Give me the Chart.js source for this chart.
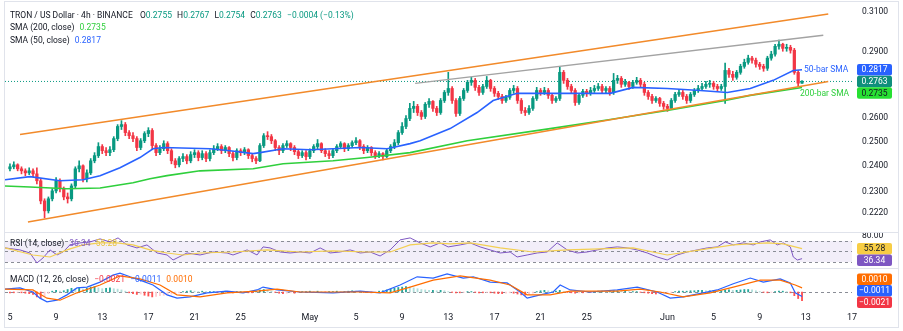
<!DOCTYPE html>
<html lang="en">
<head>
<meta charset="UTF-8" />
<title>TRON / US Dollar 4h</title>
<script src="https://cdn.jsdelivr.net/npm/chart.js"></script>
<style>
  body { margin: 0; background: #ffffff; font-family: Roboto, 'Open Sans', sans-serif; }
  #wrap { position: relative; width: 903px; height: 331px; background: #fff; overflow: hidden; }
  #wrap canvas { position: absolute; left: 0; }
  .frame { position: absolute; left: 4px; top: 1px; width: 893px; height: 325px; border: 1px solid #e0e3eb; pointer-events: none; }
  .sep { position: absolute; left: 4px; width: 895px; height: 1px; background: #e0e3eb; }
  .legend { position: absolute; left: 10px; font-size: 8.5px; line-height: 12px; color: #131722; white-space: nowrap; }
  .legend span { margin-left: 3px; }
</style>
</head>
<body>
<div id="wrap">
  <canvas id="priceChart" width="903" height="232" style="top:0"></canvas>
  <div class="sep" style="top:232px"></div>
  <canvas id="rsiChart" width="903" height="35" style="top:233px"></canvas>
  <div class="sep" style="top:268px"></div>
  <canvas id="macdChart" width="903" height="62" style="top:269px"></canvas>
  <div class="frame"></div>

  <div class="legend" style="top:9px">TRON / US Dollar · 4h · BINANCE&nbsp;
    <span>O<b style="font-weight:normal;color:#089981">0.2755</b></span>
    <span>H<b style="font-weight:normal;color:#089981">0.2767</b></span>
    <span>L<b style="font-weight:normal;color:#089981">0.2754</b></span>
    <span>C<b style="font-weight:normal;color:#089981">0.2763</b></span>
    <span style="color:#089981">−0.0004 (−0.13%)</span>
  </div>
  <div class="legend" style="top:21px">SMA (200, close) <span style="color:#2fcf3c">0.2735</span></div>
  <div class="legend" style="top:34px">SMA (50, close) <span style="color:#2962ff">0.2817</span></div>
  <div class="legend" style="top:237px">RSI (14, close) <span style="color:#7e57c2">36.34</span> <span style="color:#e9c440">55.28</span></div>
  <div class="legend" style="top:273px">MACD (12, 26, close) <span style="color:#f23645">−0.0021</span> <span style="color:#2962ff">−0.0011</span> <span style="color:#ff6d00">0.0010</span></div>
</div>

<script>
  // time axis in days from Apr 5 00:00, one candle every 8 hours
  const candleStep = 1 / 3;
  const tickDays = [0, 4, 8, 12, 16, 20, 26, 30, 34, 38, 42, 46, 50, 57, 61, 65, 69, 73];
  const tickLabels = ['5', '9', '13', '17', '21', '25', 'May', '5', '9', '13', '17', '21', '25', 'Jun', '5', '9', '13', '17'];
  const priceTicks = [0.2220, 0.2300, 0.2400, 0.2500, 0.2600, 0.2900, 0.3100];

  const firstOpen = 0.2390;
  const closes = [
    .2398,.2406,.2390,.2382,.2374,.2382,.2370,.2343,.2266,.2229,
    .2274,.2304,.2343,.2312,.2281,.2274,.2323,.2390,.2402,.2351,
    .2374,.2422,.2443,.2480,.2463,.2455,.2467,.2513,.2564,.2572,
    .2538,.2525,.2513,.2476,.2504,.2534,.2547,.2484,.2455,.2471,
    .2492,.2463,.2422,.2406,.2431,.2439,.2422,.2447,.2455,.2435,
    .2451,.2431,.2455,.2471,.2480,.2463,.2476,.2451,.2435,.2463,
    .2455,.2467,.2443,.2431,.2422,.2484,.2525,.2521,.2504,.2476,
    .2463,.2484,.2492,.2476,.2459,.2443,.2455,.2439,.2463,.2480,
    .2492,.2463,.2451,.2443,.2463,.2480,.2492,.2471,.2484,.2496,
    .2504,.2480,.2463,.2476,.2455,.2443,.2451,.2439,.2463,.2480,
    .2496,.2538,.2564,.2598,.2642,.2651,.2624,.2607,.2660,.2673,
    .2642,.2624,.2677,.2713,.2731,.2677,.2620,.2686,.2722,.2759,
    .2768,.2736,.2713,.2740,.2768,.2731,.2709,.2695,.2677,.2691,
    .2722,.2731,.2677,.2633,.2624,.2642,.2686,.2722,.2713,.2722,
    .2700,.2677,.2686,.2805,.2768,.2740,.2722,.2668,.2700,.2718,
    .2709,.2722,.2731,.2740,.2722,.2731,.2713,.2768,.2777,.2750,
    .2759,.2740,.2759,.2768,.2750,.2713,.2695,.2677,.2686,.2664,
    .2651,.2642,.2677,.2704,.2713,.2695,.2677,.2704,.2722,.2731,
    .2740,.2750,.2754,.2740,.2731,.2740,.2814,.2796,.2782,.2805,
    .2833,.2852,.2872,.2862,.2843,.2833,.2824,.2872,.2891,.2929,
    .2939,.2919,.2924,.2910,.2805,.2755,.2763
  ];
  const highs = [
    .2410,.2418,.2410,.2398,.2390,.2394,.2390,.2394,.2351,.2274,
    .2281,.2312,.2355,.2351,.2319,.2296,.2331,.2398,.2422,.2406,
    .2386,.2431,.2455,.2496,.2488,.2476,.2480,.2521,.2572,.2589,
    .2581,.2547,.2538,.2521,.2513,.2542,.2559,.2555,.2492,.2484,
    .2504,.2500,.2471,.2431,.2439,.2451,.2447,.2459,.2467,.2463,
    .2463,.2459,.2467,.2484,.2492,.2488,.2484,.2480,.2459,.2471,
    .2471,.2476,.2471,.2451,.2439,.2492,.2534,.2542,.2530,.2509,
    .2484,.2492,.2504,.2496,.2484,.2467,.2463,.2463,.2471,.2488,
    .2509,.2496,.2471,.2463,.2471,.2488,.2500,.2496,.2492,.2504,
    .2517,.2509,.2488,.2484,.2480,.2463,.2459,.2455,.2471,.2488,
    .2509,.2547,.2581,.2611,.2664,.2673,.2660,.2633,.2668,.2686,
    .2677,.2651,.2686,.2722,.2805,.2740,.2686,.2695,.2731,.2768,
    .2782,.2777,.2745,.2750,.2786,.2773,.2740,.2718,.2704,.2700,
    .2731,.2745,.2740,.2686,.2646,.2655,.2695,.2736,.2731,.2736,
    .2731,.2709,.2695,.2829,.2814,.2777,.2750,.2731,.2709,.2727,
    .2727,.2736,.2745,.2754,.2750,.2740,.2740,.2800,.2791,.2786,
    .2773,.2763,.2768,.2782,.2777,.2759,.2722,.2704,.2695,.2691,
    .2673,.2660,.2686,.2713,.2727,.2722,.2704,.2713,.2731,.2745,
    .2754,.2763,.2768,.2763,.2750,.2750,.2848,.2824,.2810,.2814,
    .2843,.2867,.2886,.2881,.2872,.2852,.2843,.2881,.2905,.2939,
    .2959,.2944,.2939,.2934,.2919,.2814,.2767
  ];
  const lows = [
    .2382,.2390,.2382,.2370,.2363,.2367,.2359,.2331,.2255,.2203,
    .2221,.2266,.2296,.2300,.2270,.2258,.2266,.2315,.2378,.2339,
    .2339,.2367,.2414,.2435,.2451,.2443,.2443,.2459,.2504,.2551,
    .2525,.2513,.2500,.2463,.2467,.2496,.2521,.2471,.2443,.2447,
    .2463,.2451,.2410,.2394,.2398,.2418,.2410,.2414,.2435,.2422,
    .2426,.2418,.2422,.2447,.2463,.2451,.2455,.2439,.2422,.2426,
    .2443,.2447,.2431,.2418,.2410,.2418,.2476,.2509,.2492,.2463,
    .2447,.2455,.2476,.2463,.2447,.2431,.2435,.2426,.2431,.2455,
    .2471,.2455,.2439,.2431,.2435,.2455,.2471,.2459,.2463,.2476,
    .2488,.2467,.2451,.2455,.2443,.2431,.2435,.2426,.2435,.2455,
    .2471,.2488,.2530,.2555,.2589,.2624,.2611,.2594,.2598,.2646,
    .2629,.2611,.2616,.2668,.2700,.2664,.2607,.2611,.2677,.2713,
    .2745,.2722,.2700,.2704,.2731,.2718,.2695,.2682,.2664,.2668,
    .2682,.2709,.2664,.2620,.2611,.2616,.2633,.2677,.2700,.2704,
    .2686,.2664,.2668,.2677,.2754,.2727,.2709,.2655,.2660,.2691,
    .2695,.2700,.2713,.2722,.2709,.2709,.2700,.2704,.2754,.2736,
    .2740,.2727,.2731,.2750,.2736,.2700,.2682,.2664,.2668,.2651,
    .2638,.2629,.2638,.2668,.2695,.2682,.2664,.2668,.2695,.2713,
    .2722,.2731,.2736,.2727,.2718,.2722,.2664,.2782,.2768,.2773,
    .2796,.2824,.2843,.2848,.2829,.2819,.2810,.2814,.2862,.2881,
    .2915,.2905,.2905,.2896,.2796,.2740,.2754
  ];

  // moving averages (day, price)
  const sma50Days = [-0.43,1.73,4.34,6.33,7.81,9.54,11.27,12.4,13.27,17.35,19.08,21.08,21.68,23.68,26.02,28.01,30.36,32.7,34.69,35.56,38.16,40.5,41.89,43.97,46.83,49.7,52.04,54.03,56.98,59.84,62.19,64.18,66.17,67.91,68.67];
  const sma50 = [.2347,.2359,.2343,.2347,.2363,.2394,.2435,.2471,.2476,.2471,.2463,.2451,.2455,.2471,.2467,.2471,.2476,.2471,.2492,.2504,.2555,.2624,.2677,.2709,.2709,.2709,.2709,.2736,.2731,.2722,.2713,.2731,.2768,.2814,.2817];
  const sma200Days = [-0.43,1.73,4.94,7.81,10.67,12.14,13.62,16.48,21.08,23.68,28.01,30.96,34.69,39.64,46.83,52.04,56.98,62.01,64.18,68.67];
  const sma200 = [.2323,.2319,.2312,.2315,.2335,.2351,.2363,.2382,.2390,.2410,.2422,.2435,.2455,.2504,.2555,.2594,.2633,.2677,.2700,.2735];

  // trend lines [startDay, startPrice, endDay, endPrice]
  const upperChannel = [0.87, 0.2530, 70.94, 0.3090];
  const lowerChannel = [1.56, 0.2188, 70.94, 0.2763];
  const resistance = [35.13, 0.2754, 70.51, 0.2983];

  // RSI (14) and its moving average
  const rsiDays = [-0.43,0.87,1.73,2.34,2.86,3.47,4.08,4.6,5.2,6.07,6.94,7.81,8.67,9.37,10.15,11.01,11.88,12.75,13.62,14.14,15.35,16.48,17.61,18.82,19.34,20.56,21.42,21.94,22.55,23.42,24.28,25.15,26.02,26.89,27.75,28.62,29.49,30.36,31.22,32.09,32.96,33.82,34.69,35.56,36.43,37.29,37.99,39.03,39.9,40.76,41.63,42.5,43.36,43.97,44.84,45.71,46.57,47.44,48.31,49.18,50.04,50.91,51.78,52.65,53.51,54.38,55.25,56.11,56.98,57.85,58.72,59.58,60.45,61.32,62.01,62.71,63.57,64.44,65.05,65.91,66.52,67.04,67.65,67.91,68.26,68.67];
  const rsi = [56.7,52.9,47.1,28.1,37.6,52.9,43.3,49,62.4,66.2,68.1,73.8,68.1,75.7,62.4,56.7,62.4,47.1,43.3,33.8,47.1,43.3,49,47.1,43.3,52.9,43.3,58.6,56.7,49,47.1,49,47.1,56.7,47.1,49,52.9,47.1,49,41.4,52.9,71.9,75.7,66.2,58.6,66.2,58.6,62.4,66.2,58.6,52.9,47.1,49,39.5,43.3,47.1,49,66.2,52.9,47.1,49,52.9,56.7,58.6,56.7,52.9,47.1,39.5,33.8,43.3,49,52.9,56.7,58.6,68.1,62.4,66.2,62.4,68.1,71.9,62.4,66.2,58.6,39.5,33.8,36.34];
  const rsiMaDays = [-0.43,1.99,3.47,4.94,6.33,7.81,9.28,10.67,12.14,13.62,15,16.48,19.34,22.29,25.15,28.01,30.96,32.96,34.69,36.69,38.16,39.9,42.5,45.36,48.31,51.17,54.03,56.98,59.84,62.71,65.65,67.04,68.67];
  const rsiMa = [56.7,43.3,39.5,52.9,62.4,66.2,66.2,62.4,52.9,47.1,43.3,47.1,49,52.9,49,51,49,49,62.4,66.2,64.3,66.2,56.7,49,52.9,54.8,56.7,43.3,52.9,62.4,66.2,64.3,55.28];

  // MACD (12, 26) line, signal and histogram
  const macdDays = [-0.43,0.87,1.99,2.6,3.21,4.08,4.94,5.81,6.68,7.81,8.93,9.54,10.41,11.27,12.4,13.62,14.48,15.61,17.09,18.82,20.21,21.42,21.94,23.16,25.15,28.01,30.36,32.09,33.82,35.3,36.69,37.9,39.29,40.16,41.63,43.1,44.23,44.84,45.97,47.09,47.7,48.57,50.3,52.65,54.38,56.11,57.24,58.37,60.1,61.32,62.71,64.18,65.31,66.78,67.65,68.08,68.67];
  const macd = [.0007,.0010,.0000,-.0015,-.0024,-.0020,-.0007,.0010,.0012,.0024,.0041,.0046,.0037,.0029,.0017,-.0007,-.0015,-.0012,-.0002,.0002,-.0002,.0005,.0012,.0005,.0000,-.0002,.0002,-.0002,.0017,.0037,.0034,.0044,.0034,.0037,.0024,.0022,.0000,-.0015,-.0007,.0000,.0017,.0005,.0000,.0005,.0012,.0000,-.0015,-.0012,-.0002,.0005,.0020,.0034,.0024,.0032,.0022,-.0002,-.0011];
  const signalDays = [-0.43,1.99,3.21,4.34,5.81,7.81,9.54,11.27,13.01,14.48,16.48,18.82,21.42,23.16,25.15,30.36,32.96,34.69,36.69,39.03,41.63,43.36,44.84,46.83,48.57,52.65,54.64,56.37,58.37,60.71,62.71,65.05,66.78,68.08,68.67];
  const signal = [.0007,.0005,-.0015,-.0020,-.0002,.0017,.0039,.0032,.0017,-.0007,-.0012,-.0002,.0002,.0007,.0000,.0000,-.0002,.0012,.0029,.0039,.0029,.0017,-.0007,-.0007,.0002,.0002,.0007,.0000,-.0012,-.0002,.0012,.0029,.0029,.0017,.0010];
  const histogram = [
    -.0002,-.0002,-.0001,-.0002,-.0003,-.0004,-.0006,-.0012,-.0015,-.0010,
    -.0004,.0002,.0004,.0002,.0003,.0006,.0009,.0008,.0010,.0007,
    .0009,.0012,.0013,.0010,.0008,.0009,.0010,.0008,.0007,.0005,
    .0002,-.0002,-.0004,-.0006,-.0005,-.0008,-.0010,-.0012,-.0011,-.0009,
    -.0008,-.0007,-.0005,-.0003,-.0002,.0001,.0002,.0003,.0002,.0001,
    .0002,.0001,.0001,.0001,-.0001,.0001,.0002,-.0001,-.0002,.0001,
    .0001,-.0001,-.0002,-.0002,.0002,.0005,.0006,.0004,.0002,-.0001,
    -.0003,-.0004,-.0003,-.0002,-.0003,-.0001,.0001,.0001,.0002,.0001,
    .0002,.0001,-.0001,.0001,.0001,.0002,.0001,.0001,.0002,.0003,
    .0002,.0001,-.0001,-.0001,-.0002,-.0001,.0002,.0003,.0005,.0007,
    .0009,.0011,.0012,.0013,.0012,.0010,.0008,.0006,.0005,.0004,
    .0004,.0003,.0004,.0003,.0001,-.0001,-.0002,-.0002,-.0001,.0001,
    .0001,-.0001,-.0002,-.0002,-.0001,-.0002,-.0003,-.0004,-.0004,-.0003,
    -.0002,-.0003,-.0005,-.0007,-.0008,-.0006,-.0003,.0001,.0003,.0004,
    .0003,.0002,.0002,.0004,.0001,-.0001,-.0002,-.0003,-.0002,-.0002,
    -.0001,-.0001,.0001,.0002,.0002,.0001,.0002,.0003,.0003,.0002,
    .0002,.0001,.0001,.0001,-.0001,-.0002,-.0003,-.0004,-.0005,-.0004,
    -.0003,-.0002,-.0001,.0001,.0002,.0002,.0002,.0003,.0003,.0004,
    .0004,.0003,.0003,.0004,.0003,.0003,.0005,.0005,.0004,.0004,
    .0005,.0006,.0006,.0005,.0003,.0001,-.0001,-.0002,-.0001,.0001,
    .0002,.0002,.0001,-.0002,-.0009,-.0016,-.0021
  ];

  const UP = '#089981', DOWN = '#f23645';
  const BLUE = '#2962ff', GREEN = '#2fcf3c', ORANGE = '#f28a2a';
  const xMin = -0.43, xMax = 73;

  // ---------- build series ----------
  const candleX = closes.map((c, i) => i * candleStep);
  const opens = closes.map((c, i) => i === 0 ? firstOpen : closes[i - 1]);
  const bodies = closes.map((c, i) => ({ x: candleX[i], y: [opens[i], c] }));
  const wicks = closes.map((c, i) => ({ x: candleX[i], y: [lows[i], highs[i]] }));
  const candleColors = closes.map((c, i) => c >= opens[i] ? UP : DOWN);
  const pts = (xs, ys) => xs.map((x, i) => ({ x: x, y: ys[i] }));
  const seg = a => [{ x: a[0], y: a[1] }, { x: a[2], y: a[3] }];
  const lastClose = closes[closes.length - 1];
  const lastDay = candleX[candleX.length - 1];

  // ---------- plugins ----------
  // fixed price-scale column, and no label padding eating the plot height
  const fixY = s => { s.width = 51; s.paddingTop = 0; s.paddingBottom = 0; };
  const fixX = s => { s.height = 23; s.paddingLeft = 0; s.paddingRight = 0; };

  const guidesPlugin = {
    id: 'guides',
    beforeDatasetsDraw(chart, args, opts) {
      const ctx = chart.ctx, a = chart.chartArea, y = chart.scales.y;
      ctx.save();
      if (opts.band) {
        const y1 = y.getPixelForValue(opts.band[0]), y2 = y.getPixelForValue(opts.band[1]);
        ctx.fillStyle = 'rgba(126, 87, 194, 0.10)';
        ctx.fillRect(a.left, y1, a.right - a.left, y2 - y1);
      }
      (opts.lines || []).forEach(v => {
        const py = Math.round(y.getPixelForValue(v)) + 0.5;
        ctx.strokeStyle = '#8a8d96';
        ctx.lineWidth = 1;
        ctx.setLineDash([3, 3]);
        ctx.beginPath();
        ctx.moveTo(a.left, py);
        ctx.lineTo(a.right, py);
        ctx.stroke();
      });
      ctx.restore();
    }
  };

  const tagsPlugin = {
    id: 'tags',
    afterDraw(chart, args, opts) {
      if (!opts.items) return;
      const ctx = chart.ctx, y = chart.scales.y, h = 11.5;
      const items = opts.items.map(it => Object.assign({}, it, { py: y.getPixelForValue(it.value) }));
      items.sort((a, b) => a.py - b.py);
      for (let i = 1; i < items.length; i++) {
        if (items[i].py < items[i - 1].py + h) items[i].py = items[i - 1].py + h;
      }
      const limit = opts.fitArea ? chart.chartArea.bottom : chart.height;
      const over = items[items.length - 1].py + h / 2 - limit;
      if (over > 0) items.forEach(it => { it.py -= over; });
      ctx.save();
      ctx.font = '8.5px Roboto, sans-serif';
      ctx.textAlign = 'center';
      ctx.textBaseline = 'middle';
      items.forEach(it => {
        ctx.fillStyle = it.bg;
        ctx.beginPath();
        ctx.roundRect(857, it.py - h / 2, 35, h, 2);
        ctx.fill();
        ctx.fillStyle = it.fg || '#ffffff';
        ctx.fillText(it.text, 874.5, it.py + 0.5);
      });
      ctx.restore();
    }
  };

  const notesPlugin = {
    id: 'notes',
    afterDatasetsDraw(chart, args, opts) {
      if (!opts.items) return;
      const ctx = chart.ctx;
      ctx.save();
      ctx.font = '8.5px Roboto, sans-serif';
      ctx.textBaseline = 'middle';
      opts.items.forEach(n => {
        ctx.fillStyle = n.color;
        ctx.fillText(n.text, chart.scales.x.getPixelForValue(n.x) + n.dx, chart.scales.y.getPixelForValue(n.y) + n.dy);
      });
      ctx.restore();
    }
  };

  const hiddenX = () => ({ type: 'linear', min: xMin, max: xMax, offset: false, display: false });
  const yGrid = { display: false, drawTicks: true, tickLength: 10 };
  const base = () => ({
    responsive: false,
    animation: false,
    devicePixelRatio: 1,
    events: [],
    layout: { autoPadding: false, padding: { left: 5, right: 0, top: 0, bottom: 0 } }
  });

  // ---------- price panel ----------
  new Chart(document.getElementById('priceChart'), {
    type: 'bar',
    plugins: [tagsPlugin, notesPlugin],
    data: {
      datasets: [
        { type: 'line', data: [{ x: xMin, y: lastClose }, { x: xMax, y: lastClose }], borderColor: UP, borderWidth: 1, borderDash: [1, 2], pointRadius: 0, order: 6 },
        { data: wicks, backgroundColor: candleColors, barThickness: 1, grouped: false, order: 5 },
        { data: bodies, backgroundColor: candleColors, barThickness: 2.6, minBarLength: 1, grouped: false, order: 4 },
        { type: 'line', data: pts(sma200Days, sma200), borderColor: GREEN, borderWidth: 1.6, pointRadius: 0, order: 2 },
        { type: 'line', data: pts(sma50Days, sma50), borderColor: BLUE, borderWidth: 1.6, pointRadius: 0, order: 2 },
        { type: 'line', data: seg(upperChannel), borderColor: ORANGE, borderWidth: 1.6, pointRadius: 0, order: 1 },
        { type: 'line', data: seg(lowerChannel), borderColor: ORANGE, borderWidth: 1.6, pointRadius: 0, order: 1 },
        { type: 'line', data: seg(resistance), borderColor: '#a3a3a3', borderWidth: 1.4, pointRadius: 0, order: 1 }
      ]
    },
    options: Object.assign(base(), {
      scales: {
        x: hiddenX(),
        y: {
          type: 'logarithmic', position: 'right', min: 0.2152, max: 0.3163,
          grid: yGrid, border: { display: false },
          afterBuildTicks: s => { s.ticks = priceTicks.map(v => ({ value: v })); },
          afterFit: fixY,
          ticks: { autoSkip: false, padding: 0, color: '#131722', font: { size: 8.5, family: 'Roboto' }, callback: v => v.toFixed(4) }
        }
      },
      plugins: {
        legend: { display: false }, tooltip: { enabled: false },
        tags: { items: [
          { value: 0.2817, text: '0.2817', bg: BLUE },
          { value: lastClose, text: '0.2763', bg: '#0f8f7c' },
          { value: 0.2735, text: '0.2735', bg: '#27e032', fg: '#131722' }
        ] },
        notes: { items: [
          { x: lastDay, y: 0.2817, text: '50-bar SMA', color: BLUE, dx: 2, dy: 0 },
          { x: lastDay, y: 0.2735, text: '200-bar SMA', color: GREEN, dx: -2, dy: 6 }
        ] }
      }
    })
  });

  // ---------- RSI panel ----------
  new Chart(document.getElementById('rsiChart'), {
    type: 'line',
    plugins: [guidesPlugin, tagsPlugin],
    data: {
      datasets: [
        { data: pts(rsiMaDays, rsiMa), borderColor: '#f3cf52', borderWidth: 1.2, pointRadius: 0 },
        { data: pts(rsiDays, rsi), borderColor: '#7e57c2', borderWidth: 1, pointRadius: 0 }
      ]
    },
    options: Object.assign(base(), {
      scales: {
        x: hiddenX(),
        y: {
          position: 'right', min: 18.6, max: 85,
          grid: yGrid, border: { display: false },
          afterBuildTicks: s => { s.ticks = [{ value: 80 }]; },
          afterFit: fixY,
          ticks: { padding: 0, color: '#131722', font: { size: 8.5, family: 'Roboto' }, callback: v => v.toFixed(2) }
        }
      },
      plugins: {
        legend: { display: false }, tooltip: { enabled: false },
        guides: { band: [70, 30], lines: [70, 50, 30] },
        tags: { fitArea: true, items: [
          { value: 55.28, text: '55.28', bg: '#f7cd45', fg: '#131722' },
          { value: 36.34, text: '36.34', bg: '#7e57c2' }
        ] }
      }
    })
  });

  // ---------- MACD panel ----------
  const histColors = histogram.map((v, i) => {
    const prev = i > 0 ? histogram[i - 1] : v;
    if (v >= 0) return v >= prev ? '#26a69a' : '#b2dfdb';
    return v <= prev ? '#ff5252' : '#ffcdd2';
  });

  new Chart(document.getElementById('macdChart'), {
    type: 'bar',
    plugins: [guidesPlugin, tagsPlugin],
    data: {
      datasets: [
        { data: histogram.map((v, i) => ({ x: candleX[i], y: v })), backgroundColor: histColors, barThickness: 1.2, order: 3 },
        { type: 'line', data: pts(signalDays, signal), borderColor: '#ff6d00', borderWidth: 1.2, pointRadius: 0, order: 1 },
        { type: 'line', data: pts(macdDays, macd), borderColor: BLUE, borderWidth: 1.2, pointRadius: 0, order: 2 }
      ]
    },
    options: Object.assign(base(), {
      scales: {
        x: {
          type: 'linear', min: xMin, max: xMax, offset: false,
          grid: { display: false, drawTicks: false }, border: { display: false },
          afterBuildTicks: s => { s.ticks = tickDays.map(v => ({ value: v })); },
          afterFit: fixX,
          ticks: { autoSkip: false, maxRotation: 0, padding: 4, color: '#131722', font: { size: 9, family: 'Roboto' }, callback: (v, i) => tickLabels[i] }
        },
        y: {
          position: 'right', min: -0.0039, max: 0.0056,
          grid: { display: false }, border: { display: false },
          afterFit: fixY,
          ticks: { display: false }
        }
      },
      plugins: {
        legend: { display: false }, tooltip: { enabled: false },
        guides: { lines: [0] },
        tags: { fitArea: true, items: [
          { value: 0.0010, text: '0.0010', bg: '#ff6d00' },
          { value: -0.0011, text: '−0.0011', bg: BLUE },
          { value: -0.0021, text: '−0.0021', bg: '#f23645' }
        ] }
      }
    })
  });
</script>
</body>
</html>
